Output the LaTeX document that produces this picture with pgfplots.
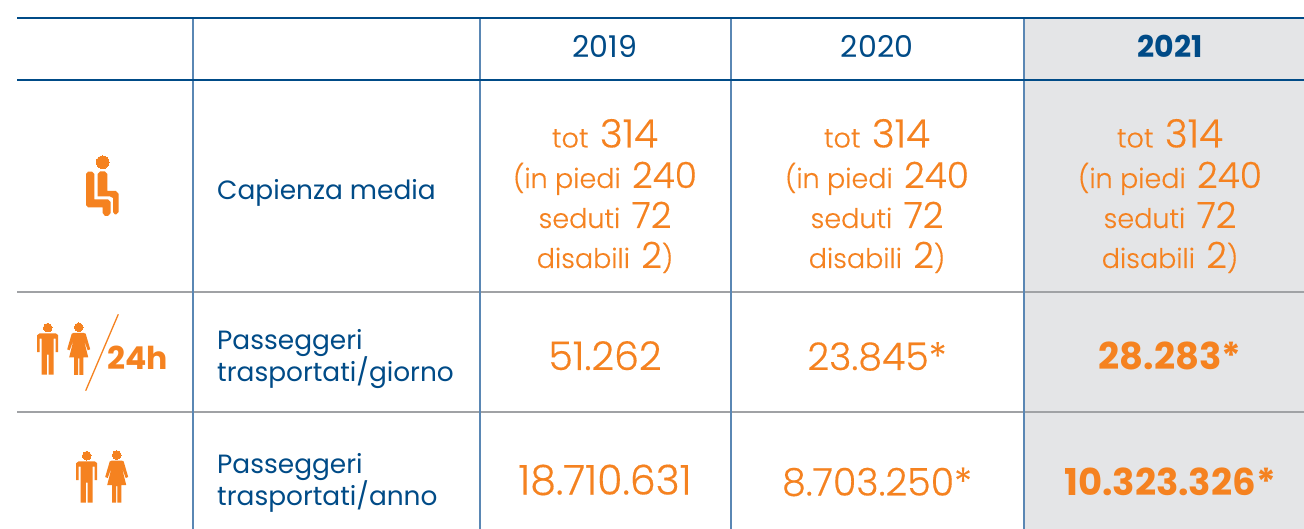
\documentclass[border=0pt]{standalone}
\usepackage{fontspec}
\setmainfont{Poppins}
\newfontfamily\lightf[FakeBold=0.35]{Poppins Light}
\usepackage{pgfplots}
\usepackage{pgfplotstable}
\pgfplotsset{compat=1.18}
\definecolor{navy}{RGB}{0,75,135}
\definecolor{vline}{RGB}{90,135,180}
\definecolor{hgrey}{RGB}{160,162,165}
\definecolor{shade}{RGB}{228,229,231}
\definecolor{orng}{RGB}{245,130,32}

% person shapes, relative to the centre of the head
\pgfplotstableread{
x y
-8 5.6
-10.5 7.5
-10.5 24.5
-8 24.5
-8 11
-6 11
-6 47
-0.8 47
-0.8 27
0.8 27
0.8 47
6 47
6 11
8 11
8 24.5
10.5 24.5
10.5 7.5
8 5.6
}\mantable
\pgfplotstableread{
x y
-5 5.6
5 5.6
7 6.5
11.5 22
9 23
5 12
9.5 30
4.7 30
4.7 47.5
0.7 47.5
0.7 31
-0.7 31
-0.7 47.5
-4.7 47.5
-4.7 30
-9.5 30
-5 12
-9 23
-11.5 22
-7 6.5
}\womantable

\newcommand{\person}[3]{%
  \addplot[fill=orng,draw=none] table[x expr=\thisrow{x}+#2,y expr=\thisrow{y}+#3]{#1} -- cycle;
  \addplot[orng,only marks,mark=*,mark size=4.3pt,mark options={fill=orng,draw=orng,line width=0pt}] coordinates {(#2,#3)};
}
\newcommand{\bignum}[2][36]{{\fontsize{#1}{#1}\selectfont #2}}
\newcommand{\capcell}[1]{%
  \node[anchor=base,orng] at (axis cs:#1,147.5) {\fontsize{27}{27}\selectfont\lightf tot\hspace{4pt} \bignum[39]{314}};
  \node[anchor=base,orng] at (axis cs:#1,188) {\fontsize{27}{27}\selectfont\lightf (in piedi\hspace{4pt} \bignum{240}};
  \node[anchor=base,orng] at (axis cs:#1,228) {\fontsize{27}{27}\selectfont\lightf seduti\hspace{4pt} \bignum{72}};
  \node[anchor=base,orng] at (axis cs:#1,268) {\fontsize{27}{27}\selectfont\lightf disabili\hspace{4pt} \bignum{2})};
}
\newcommand{\num}[4][38]{\node[anchor=base,orng] at (axis cs:#2,#3) {\fontsize{#1}{#1}\selectfont\lightf #4};}
\newcommand{\numb}[3]{\node[anchor=base,orng] at (axis cs:#1,#2) {\fontsize{37}{37}\selectfont\bfseries #3};}
\newcommand{\lab}[2]{\node[anchor=base west,navy,inner sep=0pt] at (axis cs:217,#1) {\fontsize{26.4}{26.4}\selectfont #2};}

\begin{document}
\begin{tikzpicture}
\begin{axis}[
  hide axis,
  scale only axis,
  width=1304pt,
  height=529pt,
  xmin=0,xmax=1304,
  ymin=0,ymax=529,
  y dir=reverse,
  clip=true,
]
  % white page, keeps the margins left and above the table
  \addplot[fill=white,draw=none] coordinates {(0,0) (1304,0) (1304,529) (0,529)} -- cycle;
  % shaded 2021 column
  \addplot[fill=shade,draw=none] coordinates {(1024,18) (1304,18) (1304,529) (1024,529)} -- cycle;
  % grid
  \addplot[hgrey,line width=1.6pt] coordinates {(17,292) (1304,292)};
  \addplot[hgrey,line width=1.6pt] coordinates {(17,412) (1304,412)};
  \addplot[vline,line width=1.4pt] coordinates {(193,18) (193,529)};
  \addplot[vline,line width=1.4pt] coordinates {(480,18) (480,529)};
  \addplot[vline,line width=1.4pt] coordinates {(731,18) (731,529)};
  \addplot[vline,line width=1.4pt] coordinates {(1024,18) (1024,529)};
  \addplot[navy,line width=2.8pt] coordinates {(17,18) (1304,18)};
  \addplot[navy,line width=2.8pt] coordinates {(17,80) (1304,80)};

  % header
  \node[anchor=base,navy] at (axis cs:605,58) {\fontsize{30}{30}\selectfont 2019};
  \node[anchor=base,navy] at (axis cs:877,58) {\fontsize{30}{30}\selectfont 2020};
  \node[anchor=base,navy] at (axis cs:1170,58) {\fontsize{30}{30}\selectfont\bfseries 2021};

  % row labels
  \lab{199.5}{Capienza media}
  \lab{349}{Passeggeri}
  \lab{381.5}{trasportati/giorno}
  \lab{473.5}{Passeggeri}
  \lab{505.5}{trasportati/anno}

  % capacity
  \capcell{605}
  \capcell{877}
  \capcell{1170}

  % passengers per day
  \num[39.5]{605}{370}{51.262}
  \num{877}{370}{23.845*}
  \numb{1170}{370}{28.283*}
  % passengers per year
  \num[41]{605}{494.5}{18.710.631}
  \num{877}{495.5}{8.703.250*}
  \numb{1170}{495.5}{10.323.326*}

  % seat icon
  \addplot[orng,only marks,mark=*,mark size=6.3pt,mark options={fill=orng,draw=orng,line width=0pt}] coordinates {(102.7,162.3)};
  \addplot[fill=orng,draw=none] coordinates {(86,174) (88,171.7) (92,171.7) (94.3,174) (94.3,199.3) (108,199.3) (110.7,202) (110.7,213) (108,216) (105,216) (102.7,213) (102.7,207.3) (88,207.3) (86,205)} -- cycle;
  \addplot[fill=orng,draw=none] coordinates {(97.7,174) (100,171.5) (105,171.5) (107.3,174) (107.3,191) (116,191) (118.7,194) (118.7,212) (116,214.5) (115,214.5) (113,212) (113,198) (110,196.5) (97.7,196.5)} -- cycle;

  % per-day icon
  \person{\mantable}{47.7}{327.7}
  \person{\womantable}{78.7}{327.3}
  \addplot[orng,line width=1.3pt] coordinates {(118.3,314.3) (85.7,390.7)};
  \node[anchor=base,orng] at (axis cs:137.5,370) {\fontsize{31.5}{31.5}\selectfont\bfseries 24h};

  % per-year icon
  \person{\mantable}{86.7}{455.7}
  \person{\womantable}{116.7}{455}
\end{axis}
\end{tikzpicture}
\end{document}
